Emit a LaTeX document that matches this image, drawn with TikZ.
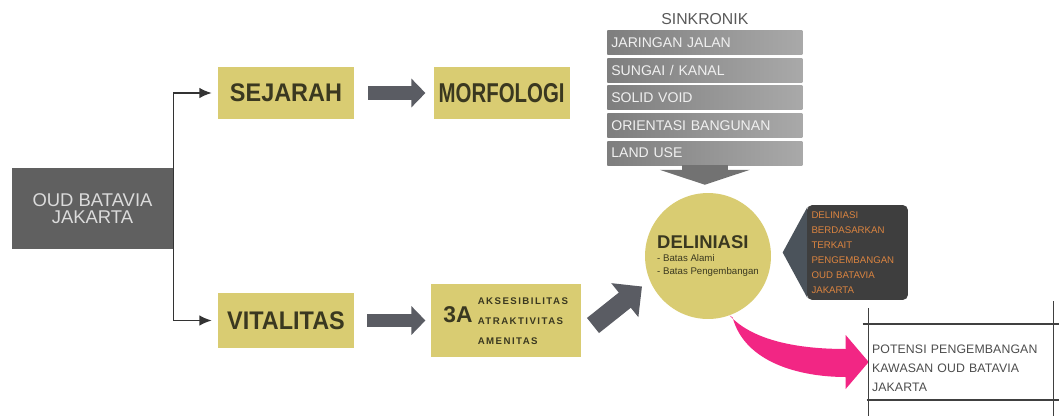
\documentclass[tikz,border=0pt]{standalone}
\usepackage{fontspec}
\setmainfont{Liberation Sans}
\newfontfamily\widebf[FakeStretch=0.92]{Liberation Sans}
\newfontfamily\narrowbf[FakeStretch=0.75]{Liberation Sans}
\newfontfamily\handfont[LetterSpace=1]{Liberation Sans}
\newfontfamily\listfont[LetterSpace=15]{Liberation Sans}
\usepackage{xcolor}
\usetikzlibrary{arrows.meta,positioning,calc,backgrounds}

\definecolor{khaki}{HTML}{D9CC72}
\definecolor{olivetext}{HTML}{3A3820}
\definecolor{oudgray}{HTML}{606060}
\definecolor{arrowgray}{HTML}{5A5C63}
\definecolor{downgray}{HTML}{727272}
\definecolor{notebg}{HTML}{3E3E3E}
\definecolor{noteorange}{HTML}{DB8440}
\definecolor{pinkarrow}{HTML}{F22684}
\definecolor{slate}{HTML}{4B535B}
\definecolor{barleft}{HTML}{7E7E7E}
\definecolor{barright}{HTML}{A9A9A9}

\begin{document}
\begin{tikzpicture}[
  x=0.02cm, y=-0.02cm,
  node distance=0.06cm,
  >=Latex,
  oudbox/.style={fill=oudgray, text=white!86!black, align=center, minimum width=3.22cm, minimum height=1.62cm, font=\fontsize{10.5}{9.8}\selectfont},
  stage/.style={fill=khaki, text=olivetext, inner sep=0pt, minimum width=2.72cm, minimum height=1.06cm},
  bar/.style={left color=barleft, right color=barright, text=white!94!black, align=left, text width=3.74cm, inner xsep=0.08cm, inner ysep=0pt, minimum height=0.48cm, font=\fontsize{8}{9}\selectfont},
  notebox/.style={fill=notebg, rounded corners=3pt, text=noteorange, align=left, text width=1.84cm, inner xsep=0.09cm, minimum height=1.9cm, font=\fontsize{5.5}{8.5}\selectfont},
  line/.style={->, draw=black!80, line width=0.9pt, >={Latex[length=7pt,width=6pt]}},
  blockarrow/.style={draw=arrowgray, line width=7.5pt, -{Triangle[width=16pt,length=8pt]}},
  fatarrow/.style={draw=arrowgray, line width=11pt, -{Triangle[width=24pt,length=12.5pt]}},
  downarrow/.style={draw=downgray, line width=26pt, -{Triangle[width=51pt,length=8.5pt]}},
  sketch/.style={draw=black!75, line width=0.8pt}
]
\useasboundingbox (0,0) rectangle (1059,416);

\node[oudbox] (oud) at (92.5,208.5) {OUD BATAVIA\\JAKARTA};
\node[stage, font=\widebf\bfseries\fontsize{14.5}{15}\selectfont] (sej) at (286,93) {SEJARAH};
\node[stage, right=1.58cm of sej, font=\narrowbf\bfseries\fontsize{15.5}{16}\selectfont] (mor) {MORFOLOGI};
\node[stage, minimum height=1.1cm, font=\widebf\bfseries\fontsize{14.5}{15}\selectfont] (vit) at (286,320.5) {VITALITAS};
\node[stage, right=1.52cm of vit, minimum width=3cm, minimum height=1.46cm] (aaa)
  {{\fontsize{13}{13}\selectfont\bfseries 3A}\hspace{3pt}{\listfont\bfseries\fontsize{5.5}{11.3}\selectfont\begin{tabular}{@{}l@{}}AKSESIBILITAS\\ATRAKTIVITAS\\AMENITAS\end{tabular}}};

\node[bar, anchor=north west] (b1) at (607,30) {JARINGAN JALAN};
\node[bar, below=of b1] (b2) {SUNGAI / KANAL};
\node[bar, below=of b2] (b3) {SOLID VOID};
\node[bar, below=of b3] (b4) {ORIENTASI BANGUNAN};
\node[bar, below=of b4] (b5) {LAND USE};
\node[above=0.1cm of b1, inner sep=0pt, text=black!65, font=\fontsize{9}{10}\selectfont] (sink) {SINKRONIK};

\node[circle, fill=khaki, text=olivetext, minimum size=2.52cm, inner sep=0pt, align=left, font=\fontsize{5.5}{7.5}\selectfont] (deli) at (708,256)
  {{\fontsize{10.5}{7.5}\selectfont\bfseries DELINIASI}\\- Batas Alami\\- Batas Pengembangan};

\node[notebox] (note) at (857.5,252.5) {DELINIASI\\BERDASARKAN\\TERKAIT\\PENGEMBANGAN\\OUD BATAVIA\\JAKARTA};
\coordinate[left=0.48cm of note] (ntip);

\node[text width=3.56cm, inner xsep=0.06cm, minimum height=1.5cm, align=left, text=black!70, font=\handfont\fontsize{7}{10.8}\selectfont] (pot) at (961,362)
  {\rule{0pt}{12pt}\mbox{POTENSI PENGEMBANGAN}\\KAWASAN OUD BATAVIA\\JAKARTA};

\draw[line] (oud.east) |- ([xshift=-3.4pt]sej.west);
\draw[line] (oud.east) |- ([xshift=-3.4pt]vit.west);
\draw[blockarrow, shorten <=8pt, shorten >=4.5pt] (sej) -- (mor);
\draw[blockarrow, shorten <=7.4pt, shorten >=2.8pt] (vit) -- (aaa);
\draw[fatarrow] (aaa.east) ++(12,5) -- ++(49,-39);
\draw[downarrow, shorten >=4.5pt] (b5.south) -- (b5.south |- deli.north);
\begin{scope}[on background layer]
\draw[slate, line width=20pt, -{Triangle[width=51pt,length=14pt]}] (note) -- (ntip);
\end{scope}

\fill[pinkarrow] (deli.-70) .. controls ($(deli.-70)+(20,22)$) and ($(pot.west)+(-79,-13)$) .. ($(pot.west)+(-23,-13)$)
  -- ($(pot.west)+(-23,-27)$) -- (pot.west) -- ($(pot.west)+(-23,27)$) -- ($(pot.west)+(-23,15)$)
  .. controls ($(pot.west)+(-69,15)$) and ($(deli.-70)+(15,47)$) .. ($(deli.-70)+(3,2)$) -- cycle;

\draw[sketch] ([xshift=-0.12cm]pot.north west) -- ([xshift=0.12cm]pot.north east);
\draw[sketch, line width=1pt] ([xshift=-0.04cm]pot.south west) -- ([xshift=0.12cm]pot.south east);
\draw[sketch] ([yshift=0.32cm]pot.north west) -- ([yshift=-0.4cm]pot.south west);
\draw[sketch] ([yshift=0.46cm]pot.north east) -- ([yshift=-0.4cm]pot.south east);

\end{tikzpicture}
\end{document}
